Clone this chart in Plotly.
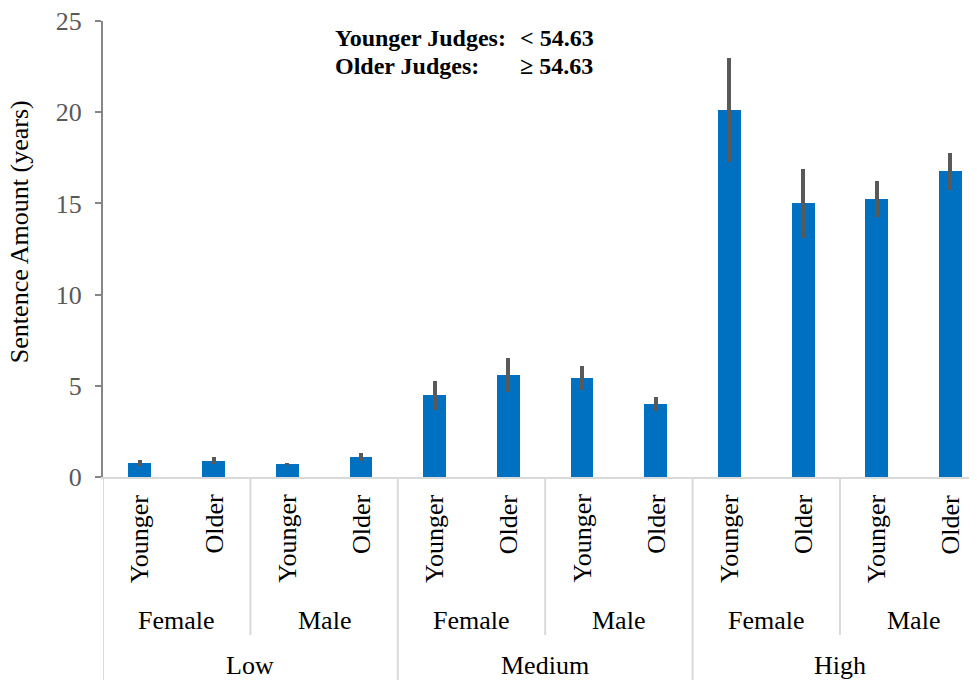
import plotly.graph_objects as go

levels = ["Low", "Medium", "High"]
genders = ["Female", "Male"]
ages = ["Younger", "Older"]
means = [0.78, 0.89, 0.71, 1.08, 4.47, 5.57, 5.42, 4.01, 20.12, 15.0, 15.24, 16.76]
errors = [0.15, 0.20, 0.07, 0.22, 0.78, 0.93, 0.66, 0.37, 2.87, 1.90, 1.00, 1.00]
y_ticks = [0, 5, 10, 15, 20, 25]

FONT = "Liberation Serif"
n = len(means)
xs = list(range(n))

fig = go.Figure()
fig.add_trace(go.Bar(
    x=xs, y=means, width=0.31,
    marker=dict(color="#0070C0", line=dict(width=0)),
    error_y=dict(type="data", array=errors, visible=True, color="#595959",
                 thickness=4, width=0),
    showlegend=False,
))

# paper y for pixel offsets below axis (plot height 456 px)
H = 456.0
def py(px_below):
    return -px_below / H

annotations = []
shapes = []
# inner labels
for i in range(n):
    annotations.append(dict(x=xs[i], y=py(15), xref="x", yref="paper",
                            text=ages[i % 2], textangle=-90, showarrow=False,
                            xanchor="center", yanchor="top",
                            font=dict(family=FONT, size=26, color="#000000")))
# gender labels
for j in range(n // 2):
    annotations.append(dict(x=2 * j + 0.5, y=py(143), xref="x", yref="paper",
                            text=genders[j % 2], showarrow=False,
                            xanchor="center", yanchor="middle",
                            font=dict(family=FONT, size=26, color="#000000")))
# level labels
for k in range(len(levels)):
    annotations.append(dict(x=4 * k + 1.5, y=py(188), xref="x", yref="paper",
                            text=levels[k], showarrow=False,
                            xanchor="center", yanchor="middle",
                            font=dict(family=FONT, size=26, color="#000000")))
# dividers
for j in range(n // 2 + 1):
    xb = 2 * j - 0.5
    long = (j % 2 == 0)
    shapes.append(dict(type="line", xref="x", yref="paper", x0=xb, x1=xb,
                       y0=0, y1=py(210 if long else 158),
                       line=dict(color="#D9D9D9", width=2)))

# y-axis title
annotations.append(dict(x=0, y=0.537, xref="paper", yref="paper", xshift=-84,
                        text="Sentence Amount (years)", textangle=-90, showarrow=False,
                        xanchor="center", yanchor="middle", borderpad=0,
                        font=dict(family=FONT, size=26, color="#000000")))
# threshold note
note_font = dict(family=FONT, size=24, color="#000000")
annotations += [
    dict(x=0.263, y=1.0 - 17 / H, xref="paper", yref="paper", text="<b>Younger Judges:</b>",
         showarrow=False, xanchor="left", yanchor="middle", font=note_font),
    dict(x=0.263, y=1.0 - 45 / H, xref="paper", yref="paper", text="<b>Older Judges:</b>",
         showarrow=False, xanchor="left", yanchor="middle", font=note_font),
    dict(x=0.475, y=1.0 - 17 / H, xref="paper", yref="paper", text="<b>< 54.63</b>",
         showarrow=False, xanchor="left", yanchor="middle", font=note_font),
    dict(x=0.475, y=1.0 - 45 / H, xref="paper", yref="paper", text="<b>≥ 54.63</b>",
         showarrow=False, xanchor="left", yanchor="middle", font=note_font),
]

fig.update_layout(
    width=969, height=672,
    margin=dict(l=95, r=0, t=13, b=203),
    paper_bgcolor="white", plot_bgcolor="white",
    font=dict(family=FONT),
    xaxis=dict(range=[-0.5, 11.36], showticklabels=False, showgrid=False,
               zeroline=False, showline=True, linecolor="#D9D9D9", linewidth=2,
               ticks=""),
    yaxis=dict(range=[0, 25], tickvals=y_ticks, showgrid=False, zeroline=False,
               showline=True, linecolor="#868686", linewidth=2,
               ticks="outside", ticklen=6, tickcolor="#868686", tickwidth=2,
               ticklabelstandoff=8, automargin=False, ticklabeloverflow="allow",
               tickfont=dict(family=FONT, size=26, color="#595959")),
    annotations=annotations, shapes=shapes,
    bargap=0,
)

fig.write_html("out.html")
